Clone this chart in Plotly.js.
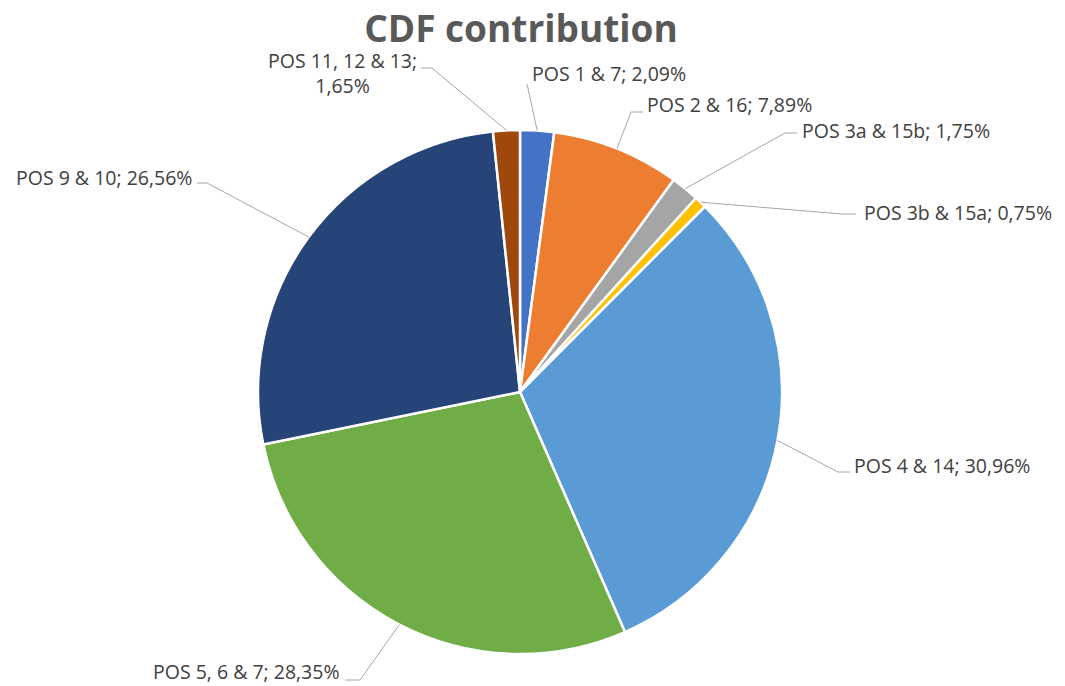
<!DOCTYPE html>
<html><head><meta charset="utf-8">
<script src="https://cdn.plot.ly/plotly-3.0.1.min.js"></script>
<style>html,body{margin:0;padding:0;background:#fff}#chart{width:1065px;height:686px}</style>
</head><body><div id="chart"></div>
<script>
// ---- data ----
const categories = ["POS 1 & 7","POS 2 & 16","POS 3a & 15b","POS 3b & 15a","POS 4 & 14","POS 5, 6 & 7","POS 9 & 10","POS 11, 12 & 13"];
const values = [2.09, 7.89, 1.75, 0.75, 30.96, 28.35, 26.56, 1.65];
const valueLabels = ["2,09%","7,89%","1,75%","0,75%","30,96%","28,35%","26,56%","1,65%"];
const colors = ["#4472C4","#ED7D31","#A5A5A5","#FFC000","#5B9BD5","#70AD47","#264478","#9E480E"];

// ---- layout geometry (pixels) ----
const W = 1065, H = 686;
const cx = 520, cy = 392, R = 262;
// label placement: [x, y, xanchor, elbowX, elbowY, endX, endY]
const labelPos = [
  [530, 73, "left", null, null, 527, 84],
  [645, 104, "left", 631, 112, 643, 112],
  [800, 130, "left", 785, 133, 797, 133],
  [862, 212, "left", 842, 214, 856, 214],
  [852, 465, "left", 838, 472, 850, 472],
  [342, 671, "right", 360, 680, 345, 680],
  [194, 177, "right", 207, 183, 197, 183],
  [419, 73, "right", 432, 68, 421, 68]
];

const total = values.reduce((a,b)=>a+b,0);
let cum = 0;
const shapes = [], annotations = [];
values.forEach((v,i)=>{
  const mid = (cum + v/2)/total*2*Math.PI; cum += v;
  const ex = cx + R*Math.sin(mid), ey = cy - R*Math.cos(mid);
  const p = labelPos[i];
  let path = `M ${ex} ${ey}`;
  if (p[3] !== null) path += ` L ${p[3]} ${p[4]}`;
  path += ` L ${p[5]} ${p[6]}`;
  shapes.push({type:"path", xref:"x", yref:"y", path, line:{color:"#A6A6A6", width:1}});
  const txt = i === 7 ? categories[i] + ";<br>" + valueLabels[i] : categories[i] + "; " + valueLabels[i];
  annotations.push({x:p[0], y:p[1], xref:"x", yref:"y", xanchor:p[2], yanchor:"middle",
    text:txt, showarrow:false, align:"center",
    font:{family:"Open Sans, sans-serif", size:19.5, color:"#404040"}});
});

const trace = {
  type:"pie", labels:categories, values:values, sort:false, direction:"clockwise", rotation:0,
  marker:{colors:colors, line:{color:"#ffffff", width:2.5}},
  textinfo:"none", hoverinfo:"label+percent", showlegend:false,
  domain:{x:[(cx-R)/W,(cx+R)/W], y:[1-(cy+R)/H, 1-(cy-R)/H]}
};
const layout = {
  width:W, height:H, margin:{l:0,r:0,t:0,b:0}, paper_bgcolor:"#fff", plot_bgcolor:"rgba(0,0,0,0)",
  showlegend:false,
  xaxis:{range:[0,W], visible:false, fixedrange:true},
  yaxis:{range:[H,0], visible:false, fixedrange:true},
  title:{text:"<b>CDF contribution</b>", x:521/W, xanchor:"center", y:1-29/H, yanchor:"middle",
    font:{family:"Open Sans, sans-serif", size:37, color:"#595959"}},
  shapes, annotations
};
Plotly.newPlot("chart",[trace],layout,{displayModeBar:false,staticPlot:true});
</script></body></html>
